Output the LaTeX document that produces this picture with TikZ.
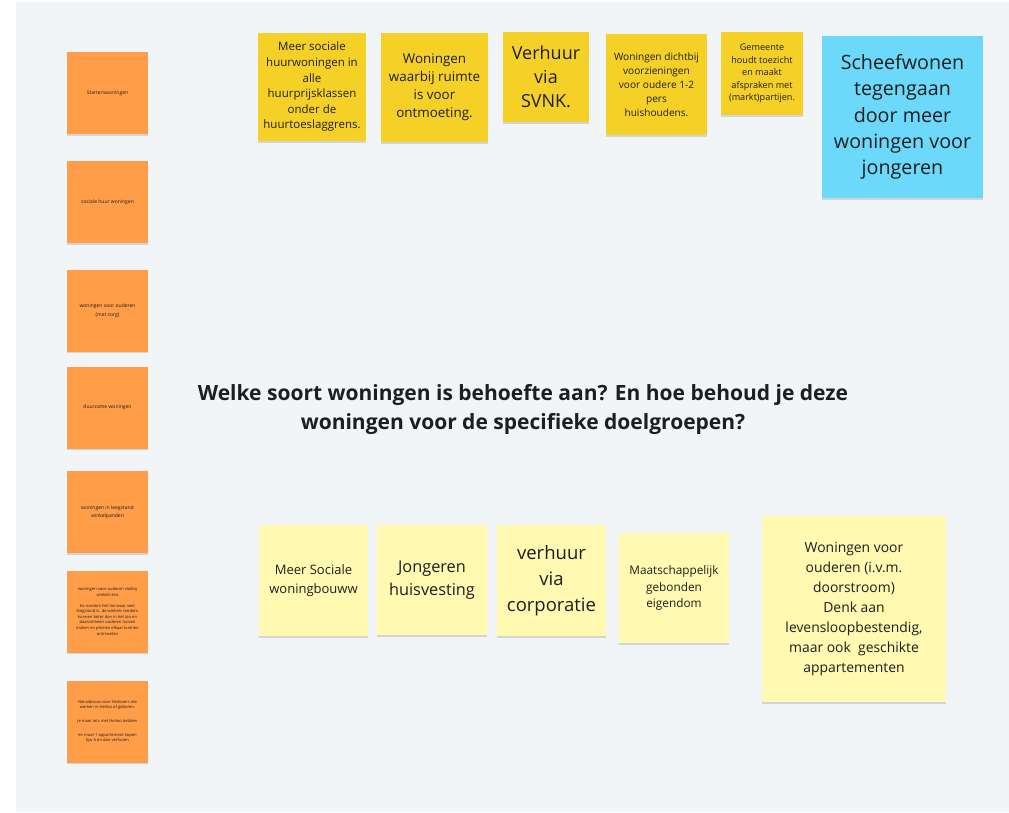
\documentclass[tikz,border=0pt]{standalone}
\usepackage{fontspec}
\setmainfont{Open Sans}
\usetikzlibrary{shadows}
\definecolor{bg}{HTML}{F1F5F8}
\definecolor{orng}{HTML}{FF9D48}
\definecolor{gold}{HTML}{F5D128}
\definecolor{sky}{HTML}{6CD8FA}
\definecolor{pale}{HTML}{FFF9B1}
\definecolor{txt}{HTML}{1E1E1E}
\newcommand\myfs[2]{\fontsize{#1}{#2}\selectfont}
\begin{document}
\begin{tikzpicture}[x=1pt,y=-1pt,
  note/.style={fill=#1, draw=none, inner sep=0pt, align=center, text=txt,
    drop shadow={shadow xshift=0pt, shadow yshift=-1.5pt, opacity=0.13, fill=black}},
  small/.style={note=orng, minimum width=81pt, minimum height=82pt},
  title/.style={align=center, text=txt, font=\bfseries\myfs{21}{29}}
]
\useasboundingbox (0,0) rectangle (1009,812);
\fill[white] (0,0) rectangle (1009,812);
\fill[bg] (16,2) rectangle (1009,812);

% left column, orange
\node[small, font=\myfs{5}{7}] (o1) at (107.5,93) {Starterswoningen};
\node[small, font=\myfs{5}{7}] (o2) at (107.5,202) {sociale huur woningen};
\node[small, font=\myfs{5}{8.5}] (o3) at (107.5,310.5) {woningen voor ouderen\\(met zorg)};
\node[small, font=\myfs{5}{7}] (o4) at (107.5,407.5) {duurzame woningen};
\node[small, font=\myfs{5}{8.5}] (o5) at (107.5,512) {woningen in leegstand\\winkelpanden};
\node[small, font=\myfs{4.1}{5.6}] (o6) at (107.5,611.5) {woningen voor ouderen vlakbij\\winkels enz\\[5pt]bv rondom het loo waar veel\\leegstand is. de winkels rondom\\kunnen beter dan in het loo en\\daaromheen ouderen huizen\\maken en pleinen elkaar kunnen\\ontmoeten};
\node[small, font=\myfs{4.1}{5.6}] (o7) at (107.5,721.5) {Nieuwbouw voor Heilooers die\\werken in Heiloo of geboren.\\[8pt]je moet iets met Heiloo hebben\\[8pt]en maar 1 appartement kopen\\(ipv 6 en dan verhuren};

% top row
\node[note=gold, minimum width=108pt, minimum height=108pt, font=\myfs{11.5}{15.6}] (a) at (312,87)
  {Meer sociale\\huurwoningen in\\alle\\huurprijsklassen\\onder de\\huurtoeslaggrens.};
\node[note=gold, minimum width=107pt, minimum height=109pt, font=\myfs{13.4}{18}] (b) at (434.5,87.5)
  {Woningen\\waarbij ruimte\\is voor\\ontmoeting.};
\node[note=gold, minimum width=86pt, minimum height=90pt, font=\myfs{18}{24}] (c) at (546,77)
  {Verhuur\\via\\SVNK.};
\node[note=gold, minimum width=101pt, minimum height=101pt, font=\myfs{10.1}{14}] (d) at (656.5,84.5)
  {Woningen dichtbij\\voorzieningen\\voor oudere 1-2\\pers\\huishoudens.};
\node[note=gold, minimum width=82pt, minimum height=83pt, font=\myfs{9.1}{12.5}] (e) at (762,73.5)
  {Gemeente\\houdt toezicht\\en maakt\\afspraken met\\(markt)partijen.};
\node[note=sky, minimum width=161pt, minimum height=162pt, font=\myfs{19.7}{26.3}] (f) at (902.5,117)
  {Scheefwonen\\tegengaan\\door meer\\woningen voor\\jongeren};

% title
\node[title] (q) at (523,409)
  {Welke soort woningen is behoefte aan? En hoe behoud je deze\\woningen voor de specifieke doelgroepen?};

% bottom row
\node[note=pale, minimum width=109pt, minimum height=111pt, font=\myfs{13}{19}] (g) at (313.5,580.5)
  {Meer Sociale\\woningbouww};
\node[note=pale, minimum width=110pt, minimum height=110pt, font=\myfs{16.3}{23}] (h) at (432,580)
  {Jongeren\\huisvesting};
\node[note=pale, minimum width=109pt, minimum height=111pt, font=\myfs{18.5}{26}] (i) at (551.5,580.5)
  {verhuur\\via\\corporatie};
\node[note=pale, minimum width=110pt, minimum height=110pt, font=\myfs{11.8}{16.5}] (j) at (674,588)
  {Maatschappelijk\\gebonden\\eigendom};
\node[note=pale, minimum width=184pt, minimum height=186pt, font=\myfs{13.9}{20}] (k) at (854,609)
  {Woningen voor\\ouderen (i.v.m.\\doorstroom)\\Denk aan\\levensloopbestendig,\\maar ook\ \ geschikte\\appartementen};
\end{tikzpicture}
\end{document}
